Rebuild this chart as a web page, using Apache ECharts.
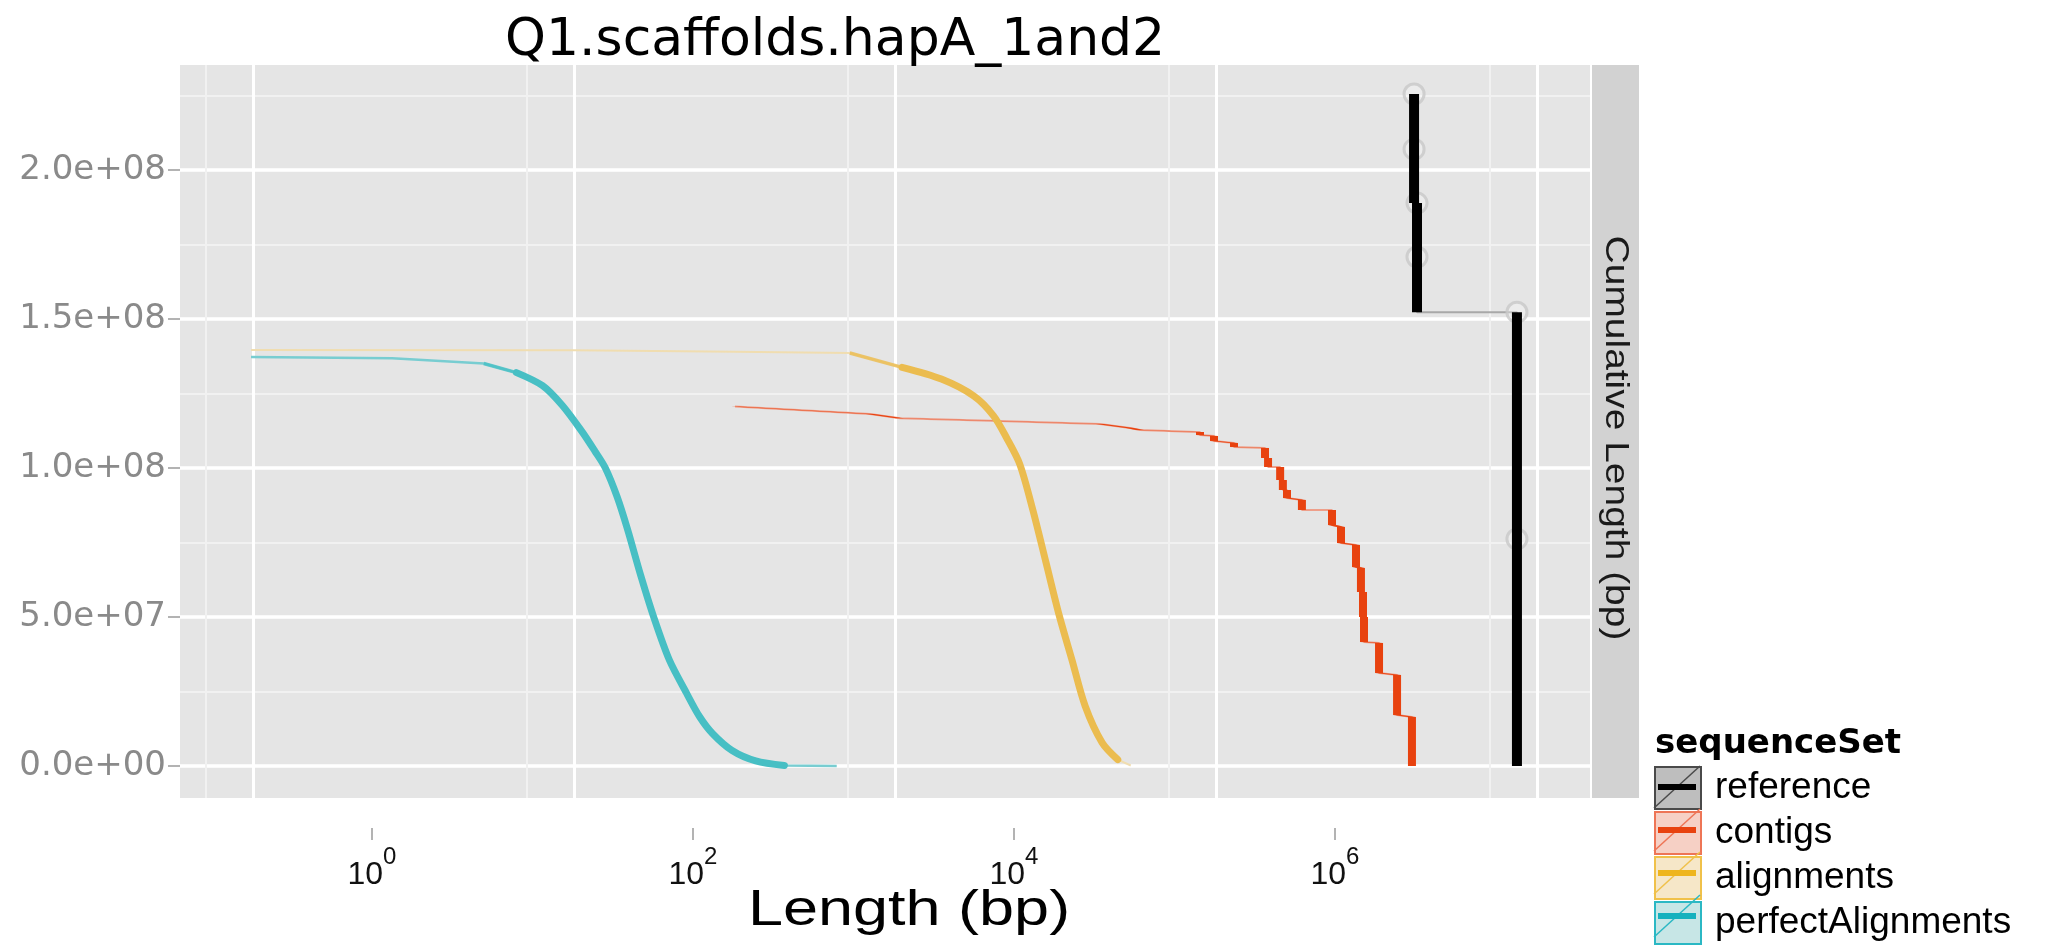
<!DOCTYPE html>
<html>
<head>
<meta charset="utf-8">
<script src="https://cdn.jsdelivr.net/npm/echarts@6/dist/echarts.min.js"></script>
<style>
html,body{margin:0;padding:0;background:#ffffff;}
#chart{width:2050px;height:950px;}
</style>
</head>
<body>
<div id="chart"></div>
<script>
// ---------------- data ----------------
const chartTitle = 'Q1.scaffolds.hapA_1and2';
const xAxisTitle = 'Length (bp)';
const facetLabel = 'Cumulative Length (bp)';
const legendTitle = 'sequenceSet';
const setNames = ['reference', 'contigs', 'alignments', 'perfectAlignments'];

// reference: step outline (length bp, cumulative length bp)
const referenceLen = [1.714e7, 1.714e7, 1.788e7, 1.788e7, 7.50e7, 7.50e7];
const referenceCum = [2.255e8, 1.889e8, 1.889e8, 1.523e8, 1.523e8, 0];
// reference: sequence markers
const referencePointLen = [1.714e7, 1.714e7, 1.788e7, 1.788e7, 7.50e7, 7.50e7];
const referencePointCum = [2.255e8, 2.07e8, 1.889e8, 1.708e8, 1.523e8, 7.62e7];

// contigs: step outline
const contigsLen = [1007, 6985, 10740, 39100, 189200, 291000, 335900, 750000,
  795000, 795000, 972000, 972000, 1.295e6, 1.295e6, 2.02e6, 2.02e6, 2.11e6, 2.11e6,
  2.51e6, 2.51e6, 2.61e6, 2.61e6, 2.77e6, 2.77e6, 3.43e6, 3.43e6, 5.28e6, 5.28e6,
  6.01e6, 6.01e6, 7.45e6, 7.45e6, 8.00e6, 8.00e6, 8.24e6, 8.24e6, 8.36e6, 8.36e6,
  1.037e7, 1.037e7, 1.343e7, 1.343e7, 1.663e7, 1.663e7];
const contigsCum = [1.206e8, 1.1812e8, 1.1668e8, 1.1587e8, 1.1476e8, 1.1342e8, 1.1275e8, 1.1208e8,
  1.1208e8, 1.1107e8, 1.1074e8, 1.0906e8, 1.0839e8, 1.0705e8, 1.0671e8, 1.0336e8, 1.0336e8, 1.0034e8,
  1.0034e8, 9.597e7, 9.597e7, 9.262e7, 9.262e7, 8.993e7, 8.926e7, 8.591e7, 8.591e7, 8.087e7,
  8.020e7, 7.483e7, 7.416e7, 6.678e7, 6.644e7, 5.839e7, 5.839e7, 5.0e7, 5.0e7, 4.161e7,
  4.128e7, 3.121e7, 3.054e7, 1.711e7, 1.644e7, 0];

// alignments: curve
const alignmentsLen = [0.972, 100, 1000, 5230, 11070, 19450, 31050, 41120, 49630, 59870,
  72220, 87150, 105100, 126800, 153000, 195100, 244300, 294400];
const alignmentsCum = [1.396e8, 1.395e8, 1.390e8, 1.386e8, 1.3376e8, 1.2983e8, 1.2413e8, 1.1752e8, 1.1007e8, 1.0131e8,
  8.594e7, 6.839e7, 5.084e7, 3.55e7, 2.013e7, 7.85e6, 2.15e6, 1.7e5];

// perfectAlignments: curve
const perfectLen = [0.972, 7.37, 27.4, 43.8, 63.7, 84.4, 111.9, 134.9, 156.8, 185.6, 215.7,
  260.2, 313.8, 393.1, 501.6, 605, 729, 966, 1355, 2046, 4335];
const perfectCum = [1.3728e8, 1.3685e8, 1.3507e8, 1.3201e8, 1.2762e8, 1.2104e8, 1.1228e8, 1.0567e8, 1.0e8, 9.034e7, 7.936e7,
  6.399e7, 4.997e7, 3.55e7, 2.453e7, 1.661e7, 1.091e7, 5.2e6, 1.71e6, 1.7e5, 0];

// axes / ticks
const yTickValues = [0, 5e7, 1e8, 1.5e8, 2e8];
const yMinorValues = [2.5e7, 7.5e7, 1.25e8, 1.75e8, 2.25e8];
const xMajorGrid = [1, 100, 1e4, 1e6, 1e8];
const xMinorGrid = [0.505, 50.5, 5050, 505000, 50500000];
const xTickExponents = [0, 2, 4, 6];

// ---------------- styling / layout ----------------
const FONT = 'Liberation Sans';
const WIDE = 'DejaVu Sans';
const GRID = {left: 180, top: 65, width: 1410, height: 733};
const X_MIN = 0.35087, X_MAX = 2.139e8;
const Y_MIN = -1.0738e7, Y_MAX = 2.3523e8;
const LABEL_SHIFT = 0.741;   // exponent offset of the printed axis labels

const thickColor = ['#000000', '#E8420F', '#EBBC4F', '#47BFC4'];
const thinColor  = ['#a8a8a8', '#EE9F8A', '#F0DDB0', '#78CDD1'];
const thinWidth  = [2, 2, 2, 2.5];
// how the thick part of each set is drawn: 'step' = swept vertical drops, 'line' = stroked band
const thickMode  = ['step', 'step', 'line', 'line'];
const thickWidth = [10, 8, 7, 7];
const thickRange = [null, null, [4, 16], [3, 19]];   // vertex index range of the full-width band
const taperRange = [null, null, [3, 4], [2, 3]];     // vertex index range of the thinner lead-in
const keyFill    = ['#BEBEBE', '#F6D0C5', '#F6E7C8', '#C7E6E6'];
const keyBorder  = ['#4a4a4a', '#EE7556', '#F0C14A', '#2BB8C4'];
const keyBar     = ['#000000', '#E8420F', '#EEB51E', '#15B1BE'];

const LEG = {left: 1654, top: 766, w: 46, h: 42, gap: 1};

function sci(v) {
  if (v === 0) return '0.0e+00';
  const e = Math.floor(Math.log10(Math.abs(v)) + 1e-9);
  const m = v / Math.pow(10, e);
  return m.toFixed(1) + 'e' + (e < 0 ? '-' : '+') + String(Math.abs(e)).padStart(2, '0');
}

const sets = [
  [referenceLen, referenceCum],
  [contigsLen, contigsCum],
  [alignmentsLen, alignmentsCum],
  [perfectLen, perfectCum]
];

const series = [];
sets.forEach(([lens, cums], i) => {
  const name = setNames[i];
  const pts = lens.map((l, k) => [l, cums[k]]);
  // thin connecting line
  series.push({
    name: name, type: 'line', xAxisIndex: 0, yAxisIndex: 0,
    data: pts, showSymbol: false, silent: true, z: 3,
    lineStyle: {width: thinWidth[i], color: thinColor[i]},
    itemStyle: {color: thickColor[i]}
  });
  const col = thickColor[i];
  const w = thickWidth[i];
  if (thickMode[i] === 'step') {
    // each segment swept by a horizontal bar of fixed pixel width -> thick vertical drops
    const segs = [];
    for (let k = 0; k < lens.length - 1; k++) segs.push([lens[k], cums[k], lens[k + 1], cums[k + 1]]);
    series.push({
      name: name, type: 'custom', xAxisIndex: 0, yAxisIndex: 0,
      silent: true, z: 5, clip: true,
      encode: {x: [0, 2], y: [1, 3]},
      itemStyle: {color: col},
      data: segs,
      renderItem: function (params, api) {
        const p1 = api.coord([api.value(0), api.value(1)]);
        const p2 = api.coord([api.value(2), api.value(3)]);
        const h = w / 2;
        return {
          type: 'polygon',
          shape: {points: [[p1[0] - h, p1[1]], [p1[0] + h, p1[1]], [p2[0] + h, p2[1]], [p2[0] - h, p2[1]]]},
          style: {fill: col}
        };
      }
    });
  } else {
    const t = taperRange[i];
    series.push({
      name: name, type: 'line', xAxisIndex: 0, yAxisIndex: 0,
      data: pts.slice(t[0], t[1] + 1), showSymbol: false, silent: true, z: 4,
      lineStyle: {width: w * 0.5, color: col, opacity: 0.8, cap: 'butt', join: 'round'},
      itemStyle: {color: col}
    });
    const r = thickRange[i];
    series.push({
      name: name, type: 'line', xAxisIndex: 0, yAxisIndex: 0,
      data: pts.slice(r[0], r[1] + 1), showSymbol: false, silent: true, z: 5,
      smooth: 0.3,
      lineStyle: {width: w, color: col, cap: 'round', join: 'round'},
      itemStyle: {color: col}
    });
  }
});
// reference markers
series.push({
  name: 'referencePoints', type: 'scatter', xAxisIndex: 0, yAxisIndex: 0,
  data: referencePointLen.map((l, k) => [l, referencePointCum[k]]),
  symbol: 'circle', symbolSize: 20, silent: true, z: 4,
  itemStyle: {color: 'rgba(255,255,255,0.35)', borderColor: 'rgba(200,200,200,1)', borderWidth: 3}
});

const graphics = [];
// facet strip
graphics.push({
  type: 'rect', z: 1, silent: true,
  shape: {x: 1592, y: GRID.top, width: 47, height: GRID.height},
  style: {fill: '#d2d2d2'}
});
graphics.push({
  type: 'text', z: 2, silent: true,
  x: 1615, y: 438, rotation: -Math.PI / 2, scaleX: 1.18,
  style: {text: facetLabel, font: '33px "' + FONT + '"', fill: '#1a1a1a',
          align: 'center', verticalAlign: 'middle'}
});
// x axis title
graphics.push({
  type: 'text', z: 2, silent: true,
  x: 909, y: 911, scaleX: 1.26,
  style: {text: xAxisTitle, font: '50px "' + FONT + '"', fill: '#000000',
          align: 'center', verticalAlign: 'middle'}
});
// legend key decorations
setNames.forEach((n, i) => {
  const y0 = LEG.top + i * (LEG.h + LEG.gap);
  graphics.push({
    type: 'line', z: 20, silent: true,
    shape: {x1: LEG.left, y1: y0 + LEG.h, x2: LEG.left + LEG.w, y2: y0},
    style: {stroke: keyBorder[i], lineWidth: 1.5}
  });
  graphics.push({
    type: 'rect', z: 21, silent: true,
    shape: {x: LEG.left + 4, y: y0 + LEG.h / 2 - 3, width: LEG.w - 8, height: 6},
    style: {fill: keyBar[i]}
  });
});

const option = {
  animation: false,
  backgroundColor: '#ffffff',
  textStyle: {fontFamily: FONT},
  title: [
    {text: chartTitle, left: 500, top: 10,
     textStyle: {fontSize: 52, fontWeight: 'normal', color: '#000000', fontFamily: WIDE}},
    {text: legendTitle, left: 1650, top: 722,
     textStyle: {fontSize: 34, fontWeight: 'bold', color: '#000000', fontFamily: WIDE}}
  ],
  legend: {
    orient: 'vertical', left: LEG.left, top: LEG.top, padding: 0,
    itemWidth: LEG.w, itemHeight: LEG.h, itemGap: LEG.gap,
    selectedMode: false,
    textStyle: {fontSize: 37, color: '#000000', fontFamily: FONT, padding: [0, 0, 0, 9]},
    data: setNames.map((n, i) => ({
      name: n, icon: 'rect',
      itemStyle: {color: keyFill[i], borderColor: keyBorder[i], borderWidth: 2}
    }))
  },
  grid: {left: GRID.left, top: GRID.top, width: GRID.width, height: GRID.height,
         show: true, backgroundColor: '#e5e5e5', borderWidth: 0, containLabel: false},
  xAxis: [
    { // data axis, major grid
      type: 'log', logBase: 10, min: X_MIN, max: X_MAX, position: 'bottom',
      axisLine: {show: false, onZero: false},
      axisTick: {show: false, customValues: xMajorGrid},
      axisLabel: {show: false, customValues: xMajorGrid},
      splitLine: {show: true, lineStyle: {color: '#ffffff', width: 3}},
      minorSplitLine: {show: false}
    },
    { // minor grid
      type: 'log', logBase: 10, min: X_MIN, max: X_MAX, position: 'bottom',
      axisLine: {show: false, onZero: false},
      axisTick: {show: false, customValues: xMinorGrid},
      axisLabel: {show: false, customValues: xMinorGrid},
      splitLine: {show: true, lineStyle: {color: '#f1f1f1', width: 2}}
    },
    { // printed labels (exponent units)
      type: 'value', min: Math.log10(X_MIN) - LABEL_SHIFT, max: Math.log10(X_MAX) - LABEL_SHIFT,
      position: 'bottom', offset: 30,
      axisLine: {show: false, onZero: false},
      axisTick: {show: true, length: 12, customValues: xTickExponents,
                 lineStyle: {color: '#9a9a9a', width: 1.5}},
      axisLabel: {
        show: true, margin: 17, customValues: xTickExponents,
        formatter: v => '{b|10}{s|' + Math.round(v) + '}',
        rich: {
          b: {fontSize: 32, lineHeight: 46, verticalAlign: 'bottom', color: '#111111', fontFamily: FONT},
          s: {fontSize: 24, lineHeight: 20, verticalAlign: 'top', color: '#111111', fontFamily: FONT}
        }
      },
      splitLine: {show: false}
    }
  ],
  yAxis: [
    {
      type: 'value', min: Y_MIN, max: Y_MAX,
      axisLine: {show: false, onZero: false},
      axisTick: {show: true, length: 12, customValues: yTickValues,
                 lineStyle: {color: '#9a9a9a', width: 1.5}},
      axisLabel: {show: true, margin: 14, customValues: yTickValues, formatter: sci,
                  fontSize: 34, color: '#8a8a8a', fontFamily: WIDE},
      splitLine: {show: true, lineStyle: {color: '#ffffff', width: 3.5}}
    },
    {
      type: 'value', min: Y_MIN, max: Y_MAX,
      axisLine: {show: false, onZero: false},
      axisTick: {show: false, customValues: yMinorValues},
      axisLabel: {show: false, customValues: yMinorValues},
      splitLine: {show: true, lineStyle: {color: '#f1f1f1', width: 2}}
    }
  ],
  graphic: graphics,
  series: series
};

const chart = echarts.init(document.getElementById('chart'), null, {renderer: 'canvas'});
chart.setOption(option);
</script>
</body>
</html>
